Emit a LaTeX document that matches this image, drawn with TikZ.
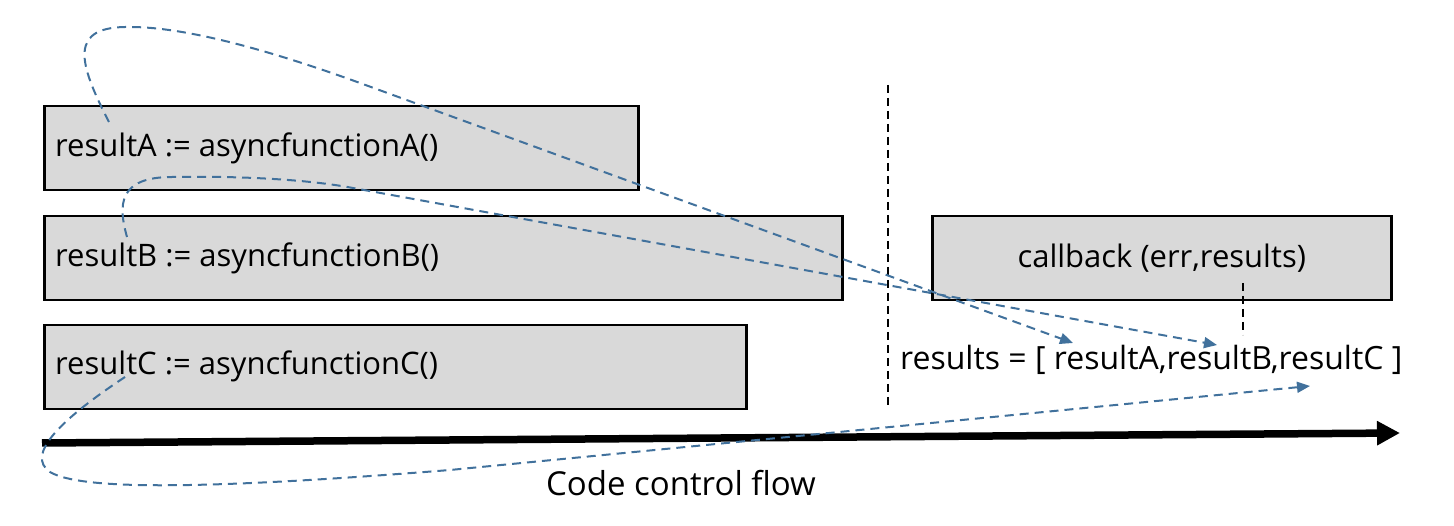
\documentclass[tikz,border=0pt]{standalone}
\usepackage{fontspec}
\setmainfont{Open Sans}
\usetikzlibrary{arrows.meta}
\definecolor{boxgray}{HTML}{D9D9D9}
\definecolor{flowblue}{HTML}{41719C}
\begin{document}
\begin{tikzpicture}[x=1pt,y=-1pt,
  codebox/.style={draw=black, line width=2.5pt, fill=boxgray, inner sep=0pt, anchor=north west},
  flowline/.style={draw=flowblue, line width=2pt, dash pattern=on 9pt off 6pt, -{Triangle[length=13pt,width=11pt]}},
  divider/.style={draw=black, line width=2pt, dash pattern=on 8pt off 5pt},
  codetext/.style={font=\fontsize{31}{36}\selectfont, inner sep=0pt},
  mainflow/.style={line width=7.5pt, -{Triangle[length=23pt,width=23pt]}}]
\useasboundingbox (0,0) rectangle (1454,526);
% boxes
\node[codebox, minimum width=594pt, minimum height=84pt] (boxA) at (43,105) {};
\node[codebox, minimum width=798pt, minimum height=84pt] (boxB) at (43,215) {};
\node[codebox, minimum width=702pt, minimum height=84pt] (boxC) at (43,324) {};
\node[codebox, minimum width=459pt, minimum height=84pt] (cb) at (931,215) {};
% texts
\node[codetext, anchor=west] (tA) at (55,148) {resultA := asyncfunctionA()};
\node[codetext, anchor=west] (tB) at (55,258) {resultB := asyncfunctionB()};
\node[codetext, anchor=west] (tC) at (55,366) {resultC := asyncfunctionC()};
\node[codetext] (tcb) at (cb.center) {callback (err,results)};
\node[codetext, font=\fontsize{32}{36}\selectfont, anchor=west] (res) at (900,360) {results = [ resultA,resultB,resultC ]};
\node[codetext, font=\fontsize{33}{38}\selectfont] (ccf) at (681,483) {Code control flow};
% dividers
\coordinate (divtop) at (888,85);
\coordinate (divbot) at (888,408);
\draw[divider] (divtop) -- (divbot);
\coordinate (cbtap) at (1243,283);
\coordinate (restap) at (1243,335);
\draw[divider] (cbtap) -- (restap);
% main flow arrow
\coordinate (flowstart) at (42,443);
\coordinate (flowend) at (1400,433);
\draw[mainflow] (flowstart) -- (flowend);
% async curves
\coordinate (sA) at (109,122);
\coordinate (eA) at (1073,343);
\coordinate (sB) at (127,237);
\coordinate (eB) at (1217,345);
\coordinate (sC) at (125,377);
\coordinate (eC) at (1310,386);
\draw[flowline] (sA) .. controls (78,62) and (68,26) .. (130,27)
  .. controls (190,27) and (280,54) .. (360,83) -- (eA);
\draw[flowline] (sB) .. controls (118,205) and (118,177) .. (172,177)
  .. controls (225,176) and (300,178) .. (353,188) -- (eB);
\draw[flowline] (sC) .. controls (60,420) and (25,455) .. (50,472)
  .. controls (80,490) and (200,490) .. (450,470) -- (eC);
\end{tikzpicture}
\end{document}
